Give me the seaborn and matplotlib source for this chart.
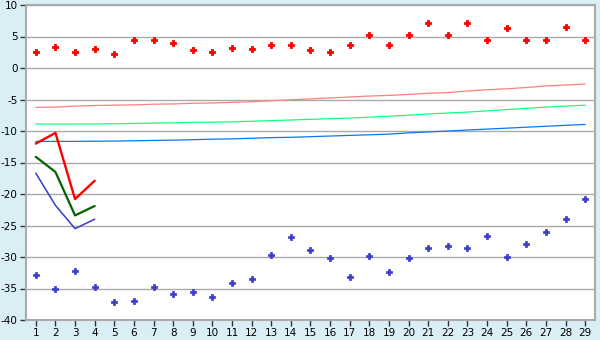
import matplotlib
matplotlib.use("Agg")
import matplotlib.pyplot as plt
import seaborn as sns
import pandas as pd

days = list(range(1, 30))

upper_points = [2.5, 3.3, 2.6, 3.0, 2.2, 4.5, 4.5, 3.9, 2.8, 2.5, 3.1, 3.0, 3.6, 3.6,
                2.8, 2.6, 3.6, 5.3, 3.6, 5.3, 7.2, 5.3, 7.1, 4.5, 6.3, 4.5, 4.5, 6.5, 4.4]
lower_points = [-32.8, -35.1, -32.3, -34.8, -37.2, -37.0, -34.7, -35.9, -35.5, -36.4,
                -34.2, -33.5, -29.7, -26.9, -28.9, -30.2, -33.2, -29.9, -32.4, -30.2,
                -28.6, -28.3, -28.5, -26.7, -30.0, -28.0, -26.1, -24.0, -20.8]

trend_red = [-6.25, -6.2, -6.05, -5.95, -5.9, -5.85, -5.75, -5.7, -5.6, -5.55, -5.45,
             -5.35, -5.2, -5.05, -4.9, -4.75, -4.6, -4.45, -4.35, -4.2, -4.0, -3.9,
             -3.65, -3.45, -3.3, -3.1, -2.85, -2.7, -2.55]
trend_green = [-8.9, -8.9, -8.9, -8.88, -8.85, -8.8, -8.75, -8.7, -8.62, -8.6, -8.55,
               -8.45, -8.35, -8.25, -8.15, -8.05, -7.95, -7.8, -7.65, -7.5, -7.3, -7.15,
               -7.0, -6.8, -6.6, -6.4, -6.2, -6.05, -5.9]
trend_blue = [-11.65, -11.65, -11.65, -11.62, -11.6, -11.55, -11.5, -11.45, -11.38,
              -11.3, -11.25, -11.15, -11.05, -11.0, -10.9, -10.8, -10.7, -10.6, -10.5,
              -10.3, -10.15, -10.0, -9.85, -9.7, -9.55, -9.4, -9.25, -9.1, -8.95]

recent_days = [1, 2, 3, 4]
recent_red = [-12.0, -10.3, -20.8, -17.9]
recent_green = [-14.1, -16.5, -23.4, -21.9]
recent_blue = [-16.7, -21.8, -25.5, -24.0]

y_ticks = list(range(-40, 11, 5))

sns.set_style("white")
plt.rcParams['font.family'] = ['DejaVu Sans']

fig = plt.figure(figsize=(6, 3.4), dpi=100)
fig.patch.set_facecolor('#DAEEF5')
ax = fig.add_axes([26/600, 1-320/340, (595-26)/600, (320-5)/340])
ax.set_facecolor('white')

grid_color = '#AAAAAA'
for v in y_ticks:
    ax.axhline(v, color=grid_color, lw=1, zorder=0)

df_tr = pd.DataFrame({'x': days, 'r': trend_red, 'g': trend_green, 'b': trend_blue})
sns.lineplot(data=df_tr, x='x', y='r', color='#FF8080', lw=0.9, ax=ax)
sns.lineplot(data=df_tr, x='x', y='g', color='#10FF80', lw=0.9, ax=ax)
sns.lineplot(data=df_tr, x='x', y='b', color='#0A78EE', lw=0.9, ax=ax)

df_rc = pd.DataFrame({'x': recent_days, 'r': recent_red, 'g': recent_green, 'b': recent_blue})
sns.lineplot(data=df_rc, x='x', y='r', color='#FF0000', lw=1.7, ax=ax)
sns.lineplot(data=df_rc, x='x', y='g', color='#006400', lw=1.6, ax=ax)
sns.lineplot(data=df_rc, x='x', y='b', color='#3A3ACC', lw=1.1, ax=ax)

df_pts = pd.DataFrame({'x': days, 'hi': upper_points, 'lo': lower_points})
sns.scatterplot(data=df_pts, x='x', y='hi', color='#FF0000', marker='P', s=22,
                edgecolor='#FF0000', linewidth=0.6, ax=ax, zorder=5)
sns.scatterplot(data=df_pts, x='x', y='lo', color='#3A3ACC', marker='P', s=18,
                edgecolor='#3A3ACC', linewidth=0.5, ax=ax, zorder=5)

ax.set_xlim(0.5, 29.5)
ax.set_ylim(-40, 10)
ax.set_xticks(days)
ax.set_xticklabels([str(d) for d in days])
ax.set_yticks(y_ticks)
ax.set_yticklabels([str(v) for v in y_ticks])
ax.set_xlabel('')
ax.set_ylabel('')
for s in ax.spines.values():
    s.set_color(grid_color)
    s.set_linewidth(1.5)
ax.tick_params(axis='both', which='both', length=4, width=1, color='#333333',
               labelsize=7.5, labelcolor='#000000', direction='out', pad=2)
ax.tick_params(left=True, bottom=True)

fig.savefig('out.png', dpi=100, facecolor=fig.get_facecolor())
